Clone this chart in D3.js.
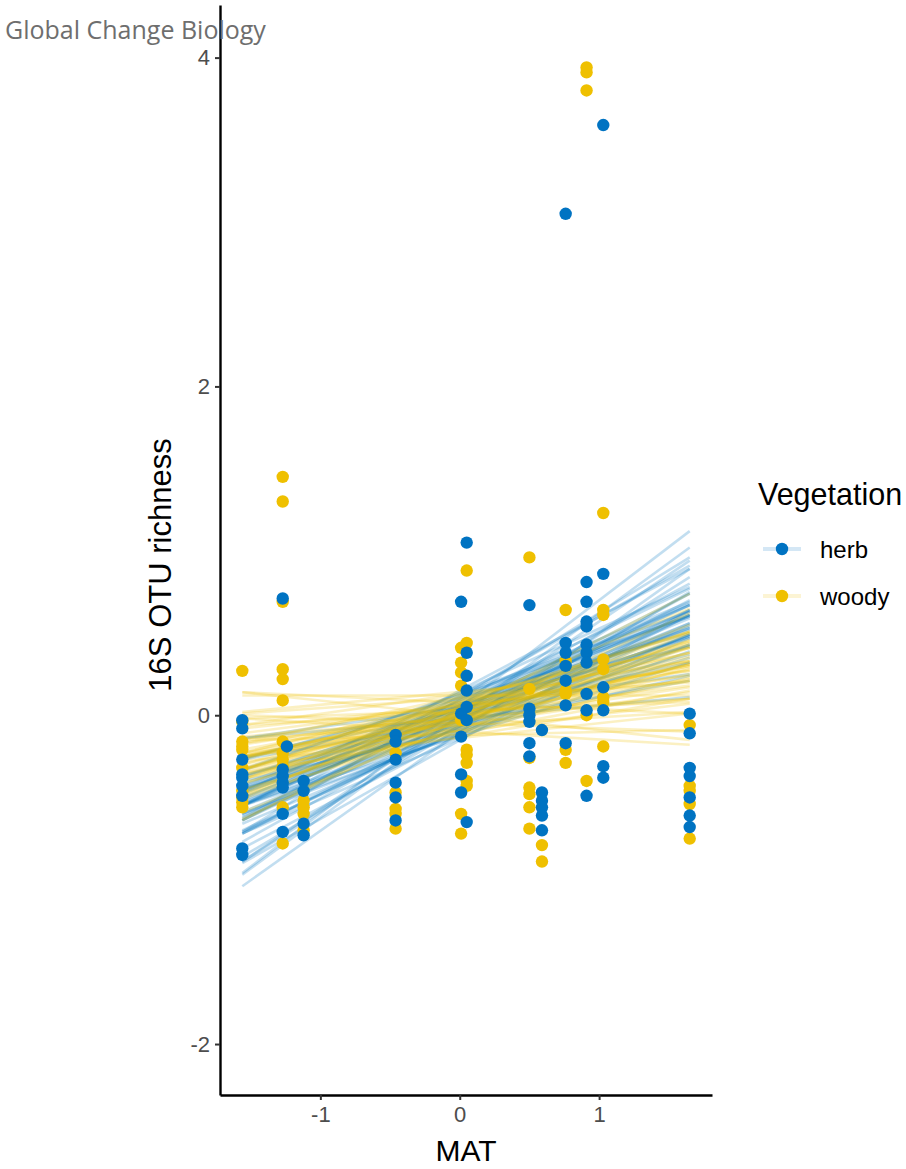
<!DOCTYPE html>
<html>
<head>
<meta charset="utf-8">
<script src="https://cdn.jsdelivr.net/npm/d3@7"></script>
<style>
  body { margin: 0; background: #fff; }
  svg { display: block; }
</style>
</head>
<body>
<div id="chart"></div>
<script>
// [MAT, richness] of the sampled sites
const herbPoints = [
  [-1.56,-0.03],[-1.56,-0.08],[-1.56,-0.27],[-1.56,-0.36],[-1.56,-0.38],[-1.56,-0.43],[-1.56,-0.49],[-1.56,-0.81],[-1.56,-0.85],
  [-1.27,0.71],[-1.24,-0.19],[-1.27,-0.33],[-1.27,-0.37],[-1.27,-0.41],[-1.27,-0.44],[-1.27,-0.60],[-1.27,-0.71],
  [-1.12,-0.40],[-1.12,-0.46],[-1.12,-0.66],[-1.12,-0.73],
  [-0.46,-0.12],[-0.46,-0.16],[-0.46,-0.27],[-0.46,-0.41],[-0.46,-0.50],[-0.46,-0.64],
  [0.01,0.69],[0.01,0.01],[0.01,-0.13],[0.01,-0.36],[0.01,-0.47],
  [0.05,1.05],[0.05,0.38],[0.05,0.24],[0.05,0.15],[0.05,0.05],[0.05,-0.03],[0.05,-0.65],
  [0.50,0.67],[0.50,0.04],[0.50,0.00],[0.50,-0.04],[0.50,-0.17],[0.50,-0.25],
  [0.59,-0.09],[0.59,-0.47],[0.59,-0.52],[0.59,-0.56],[0.59,-0.61],[0.59,-0.70],
  [0.76,3.05],[0.76,0.44],[0.76,0.38],[0.76,0.30],[0.76,0.21],[0.76,0.06],[0.76,-0.17],
  [0.91,0.81],[0.91,0.69],[0.91,0.57],[0.91,0.54],[0.91,0.43],[0.91,0.38],[0.91,0.32],[0.91,0.13],[0.91,0.03],[0.91,-0.49],
  [1.03,3.59],[1.03,0.86],[1.03,0.17],[1.03,0.03],[1.03,-0.31],[1.03,-0.38],
  [1.65,0.01],[1.65,-0.11],[1.65,-0.32],[1.65,-0.37],[1.65,-0.50],[1.65,-0.61],[1.65,-0.68]
];
const woodyPoints = [
  [-1.56,0.27],[-1.56,-0.04],[-1.56,-0.16],[-1.56,-0.19],[-1.56,-0.21],[-1.56,-0.32],[-1.56,-0.46],[-1.56,-0.50],[-1.56,-0.53],[-1.56,-0.56],
  [-1.27,1.45],[-1.27,1.30],[-1.27,0.69],[-1.27,0.28],[-1.27,0.22],[-1.27,0.09],[-1.27,-0.16],[-1.27,-0.23],[-1.27,-0.27],[-1.27,-0.31],[-1.27,-0.56],[-1.27,-0.78],
  [-1.12,-0.52],[-1.12,-0.56],[-1.12,-0.60],[-1.12,-0.70],
  [-0.46,-0.23],[-0.46,-0.47],[-0.46,-0.57],[-0.46,-0.60],[-0.46,-0.69],
  [0.01,0.41],[0.01,0.32],[0.01,0.26],[0.01,0.18],[0.01,-0.03],[0.01,-0.60],[0.01,-0.72],
  [0.05,0.88],[0.05,0.44],[0.05,-0.21],[0.05,-0.24],[0.05,-0.29],[0.05,-0.40],[0.05,-0.43],
  [0.50,0.96],[0.50,0.16],[0.50,-0.26],[0.50,-0.44],[0.50,-0.48],[0.50,-0.56],[0.50,-0.69],
  [0.59,-0.79],[0.59,-0.89],
  [0.76,0.64],[0.76,0.33],[0.76,0.15],[0.76,0.13],[0.76,-0.21],[0.76,-0.29],
  [0.91,3.94],[0.91,3.91],[0.91,3.80],[0.91,0.00],[0.91,-0.40],
  [1.03,1.23],[1.03,0.64],[1.03,0.61],[1.03,0.34],[1.03,0.28],[1.03,0.11],[1.03,0.08],[1.03,-0.19],
  [1.65,-0.06],[1.65,-0.43],[1.65,-0.46],[1.65,-0.54],[1.65,-0.75]
];

// posterior draws of the fitted line: [value at MAT min, value at MAT max]
const lineMAT = [-1.56, 1.65];
const herbDraws = [
  [-0.96,1.12],[-1.04,0.89],[-0.89,0.94],[-0.71,0.96],[-0.86,0.75],[-0.63,0.91],[-0.77,0.74],[-0.64,0.80],[-0.81,0.61],[-0.64,0.74],
  [-0.72,0.63],[-0.55,0.77],[-0.64,0.64],[-0.47,0.78],[-0.70,0.55],[-0.55,0.67],[-0.72,0.47],[-0.51,0.68],[-0.59,0.56],[-0.54,0.59],
  [-0.44,0.69],[-0.60,0.49],[-0.48,0.61],[-0.52,0.53],[-0.62,0.43],[-0.42,0.61],[-0.55,0.48],[-0.46,0.53],[-0.34,0.63],[-0.55,0.42],
  [-0.45,0.48],[-0.38,0.52],[-0.47,0.43],[-0.55,0.32],[-0.37,0.47],[-0.45,0.35],[-0.27,0.50],[-0.37,0.37],[-0.26,0.42],[-0.40,0.24],
  [-0.26,0.32],[-0.27,0.21],[-0.14,0.25],[-0.14,0.11],[-0.55,0.89],[-0.90,0.64],[-0.97,1.02],[-0.89,0.84],[-0.55,0.64],[-0.50,0.49],
  [-0.46,0.67],[-0.66,0.49],[-0.61,0.67],[-0.45,0.60],[-0.71,0.61],[-0.33,0.60],[-0.72,0.70],[-0.43,0.54],[-0.60,0.39],[-0.53,0.56]
];
const woodyDraws = [
  [0.14,-0.15],[-0.02,-0.18],[0.14,0.01],[0.00,-0.10],[0.12,0.12],[-0.15,-0.09],[-0.02,0.08],[-0.14,0.02],[0.01,0.20],[-0.13,0.10],
  [-0.08,0.21],[-0.25,0.07],[-0.17,0.18],[-0.06,0.33],[-0.24,0.17],[-0.18,0.27],[-0.35,0.10],[-0.15,0.33],[-0.26,0.25],[-0.25,0.30],
  [-0.34,0.21],[-0.17,0.41],[-0.33,0.28],[-0.26,0.38],[-0.41,0.23],[-0.32,0.36],[-0.27,0.43],[-0.39,0.31],[-0.33,0.41],[-0.39,0.38],
  [-0.30,0.50],[-0.49,0.35],[-0.42,0.45],[-0.39,0.51],[-0.51,0.46],[-0.48,0.55],[-0.59,0.50],[-0.50,0.65],[-0.63,0.62],[-0.64,0.74],
  [0.02,0.27],[-0.28,0.01],[-0.30,0.31],[-0.21,0.30],[-0.36,0.32],[-0.23,0.38],[-0.25,0.14],[-0.38,0.42],[-0.23,0.22],[-0.06,0.10],
  [-0.23,0.45],[-0.45,0.29],[-0.25,0.33],[-0.46,0.41],[-0.11,0.24],[-0.48,0.51],[-0.36,0.15],[-0.33,0.51],[-0.33,0.31],[-0.33,0.44]
];

const yTicks = [-2, 0, 2, 4];
const xTicks = [-1, 0, 1];
const groups = ["herb", "woody"];
const colors = {herb: "#0073C2", woody: "#EFC000"};

const W = 906, H = 1169;
const PANEL = {LEFT: 220, RIGHT: 712, TOP: 5, BOTTOM: 1095};

const svg = d3.select("#chart").append("svg")
  .attr("width", W)
  .attr("height", H);

const x = d3.scaleLinear().domain([-1.72, 1.81]).range([PANEL.LEFT, PANEL.RIGHT]);
const y = d3.scaleLinear().domain([-2.31, 4.32]).range([PANEL.BOTTOM, PANEL.TOP]);

// regression draws
const line = d3.line().x(d => x(d[0])).y(d => y(d[1]));
function drawLines(draws, col) {
  svg.append("g")
    .selectAll("path")
    .data(draws)
    .enter().append("path")
    .attr("d", d => line([[lineMAT[0], d[0]], [lineMAT[1], d[1]]]))
    .attr("fill", "none")
    .attr("stroke", col)
    .attr("stroke-opacity", 0.24)
    .attr("stroke-width", 2.6);
}
drawLines(herbDraws, colors.herb);
drawLines(woodyDraws, colors.woody);

// points
function drawPoints(pts, col) {
  svg.append("g")
    .selectAll("circle")
    .data(pts)
    .enter().append("circle")
    .attr("cx", d => x(d[0]))
    .attr("cy", d => y(d[1]))
    .attr("r", 6.2)
    .attr("fill", col);
}
drawPoints(woodyPoints, colors.woody);
drawPoints(herbPoints, colors.herb);

// axes
const font = "'Liberation Sans', Arial, sans-serif";
const xAxis = svg.append("g")
  .attr("transform", `translate(0,${PANEL.BOTTOM})`)
  .call(d3.axisBottom(x).tickValues(xTicks).tickSize(5).tickSizeOuter(0).tickPadding(6));
const yAxis = svg.append("g")
  .attr("transform", `translate(${PANEL.LEFT},0)`)
  .call(d3.axisLeft(y).tickValues(yTicks).tickSize(5).tickSizeOuter(0).tickPadding(5));

[xAxis, yAxis].forEach(g => {
  g.select(".domain").attr("stroke", "#000").attr("stroke-width", 2.4);
  g.selectAll(".tick line").attr("stroke", "#333").attr("stroke-width", 2);
  g.selectAll(".tick text")
    .attr("fill", "#4D4D4D")
    .style("font-family", font)
    .style("font-size", "22px")
    .text(d => d < 0 ? "-" + Math.abs(d) : d);
});

svg.append("text")
  .attr("x", (PANEL.LEFT + PANEL.RIGHT) / 2)
  .attr("y", 1161)
  .attr("text-anchor", "middle")
  .style("font-family", font)
  .style("font-size", "30px")
  .text("MAT");

svg.append("text")
  .attr("transform", `translate(171,${(PANEL.TOP + PANEL.BOTTOM) / 2 + 15}) rotate(-90)`)
  .attr("text-anchor", "middle")
  .style("font-family", font)
  .style("font-size", "31px")
  .text("16S OTU richness");

// legend
const legend = svg.append("g").attr("transform", "translate(758,0)");
legend.append("text")
  .attr("x", 0)
  .attr("y", 505)
  .style("font-family", font)
  .style("font-size", "30.5px")
  .text("Vegetation");

const keys = legend.selectAll("g.key")
  .data(groups)
  .enter().append("g")
  .attr("class", "key")
  .attr("transform", (d, i) => `translate(0,${549 + i * 47})`);
keys.append("line")
  .attr("x1", 5).attr("x2", 43)
  .attr("stroke", d => colors[d])
  .attr("stroke-opacity", 0.17)
  .attr("stroke-width", 4);
keys.append("circle")
  .attr("cx", 24)
  .attr("r", 6.2)
  .attr("fill", d => colors[d]);
keys.append("text")
  .attr("x", 62)
  .attr("dy", "0.36em")
  .style("font-family", font)
  .style("font-size", "24px")
  .text(d => d);

// journal watermark
svg.append("text")
  .attr("x", 5)
  .attr("y", 39)
  .attr("fill", "#6E6E6E")
  .style("font-family", "'Open Sans', sans-serif")
  .style("font-size", "25px")
  .text("Global Change Biology");
</script>
</body>
</html>
